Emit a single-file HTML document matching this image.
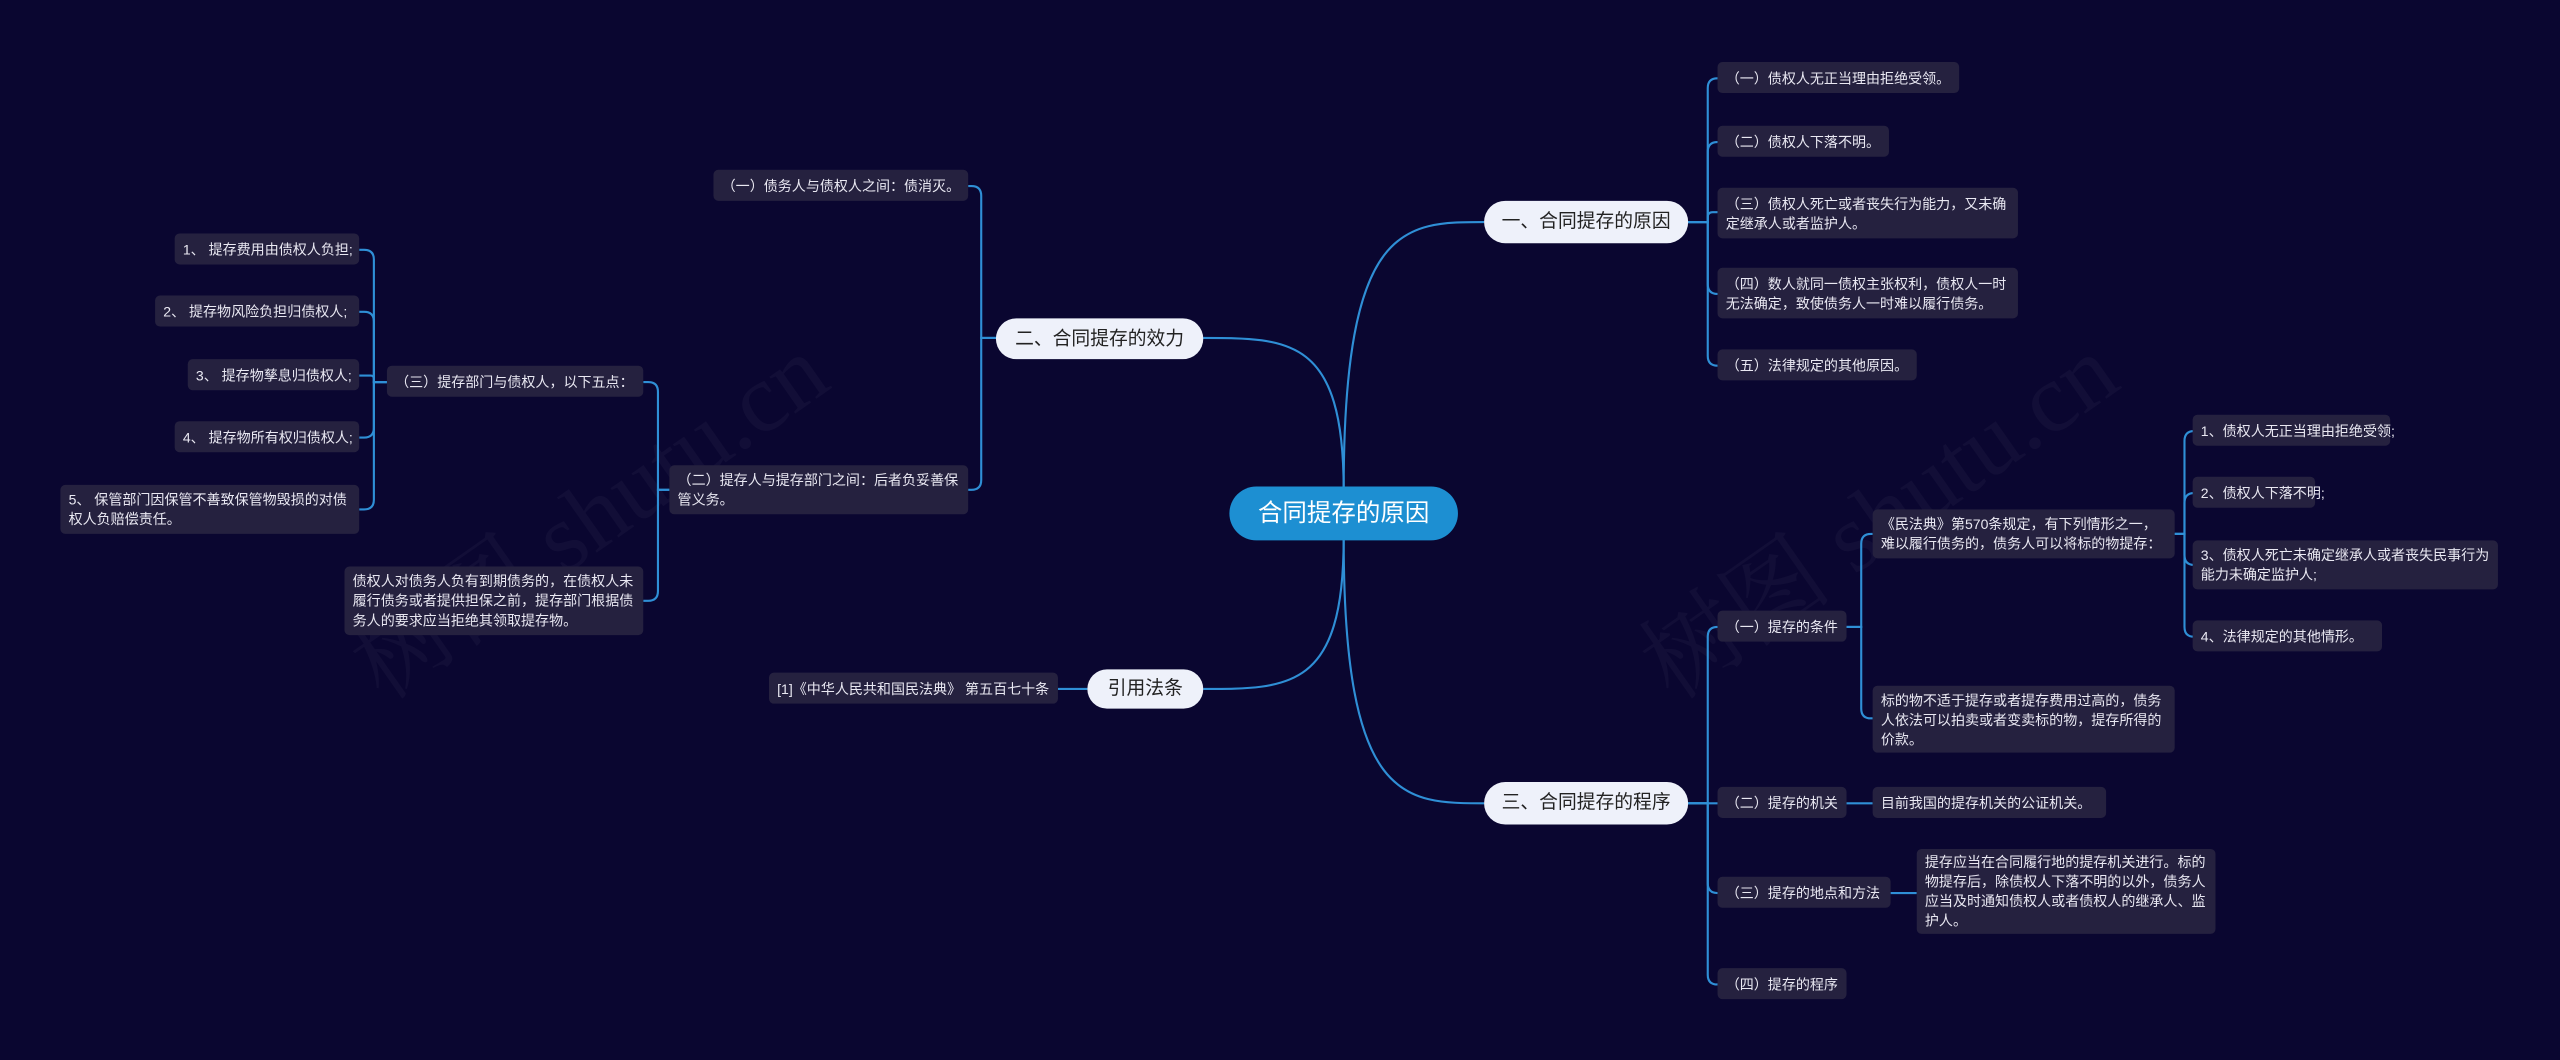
<!DOCTYPE html>
<html><head><meta charset="utf-8">
<style>
html,body{margin:0;padding:0;background:#0a0630;}
body{width:2560px;height:1059px;overflow:hidden;position:relative;}
#w{position:absolute;left:0;top:0;width:1568px;height:649px;transform:scale(1.63265);transform-origin:0 0;}
.n{position:absolute;box-sizing:border-box;background:#25213f;color:#e9e8f2;border-radius:3px;font-family:"Liberation Sans","Noto Sans CJK SC",sans-serif;font-size:8.6px;line-height:12px;padding:0 4px 0 5px;display:flex;align-items:center;}
.l1{background:#eef1fa;color:#222;border-radius:13px;font-size:11.5px;justify-content:center;padding:0;white-space:nowrap;}
.c{background:#1d8fd2;color:#fff;border-radius:17px;font-size:15px;justify-content:center;padding:0;white-space:nowrap;}
svg{position:absolute;left:0;top:0;}
.wm{position:absolute;font-family:"Liberation Serif","Noto Serif CJK SC",serif;font-size:60px;color:rgba(255,255,255,0.035);transform:rotate(-35deg);white-space:nowrap;}
</style></head><body>
<div id="w">
<div class="wm" style="left:190px;top:270px;">树图 shutu.cn</div>
<div class="wm" style="left:980px;top:270px;">树图 shutu.cn</div>
<svg id="s" width="1568" height="649"></svg>

<div class="n c" style="left:753px;top:298px;width:140px;height:33px;">合同提存的原因</div>
<div class="n l1" style="left:909px;top:123px;width:125px;height:26px;">一、合同提存的原因</div>
<div class="n l1" style="left:610px;top:195px;width:127px;height:25px;">二、合同提存的效力</div>
<div class="n l1" style="left:666px;top:410px;width:71px;height:24px;">引用法条</div>
<div class="n l1" style="left:909px;top:479px;width:125px;height:26px;">三、合同提存的程序</div>

<div class="n" style="left:1052px;top:38px;width:148px;height:19px;">（一）债权人无正当理由拒绝受领。</div>
<div class="n" style="left:1052px;top:77px;width:105px;height:19px;">（二）债权人下落不明。</div>
<div class="n" style="left:1052px;top:115px;width:184px;height:31px;">（三）债权人死亡或者丧失行为能力，又未确定继承人或者监护人。</div>
<div class="n" style="left:1052px;top:164px;width:184px;height:31px;">（四）数人就同一债权主张权利，债权人一时无法确定，致使债务人一时难以履行债务。</div>
<div class="n" style="left:1052px;top:214px;width:122px;height:19px;">（五）法律规定的其他原因。</div>

<div class="n" style="left:1052px;top:374px;width:79px;height:19px;">（一）提存的条件</div>
<div class="n" style="left:1052px;top:482px;width:79px;height:19px;">（二）提存的机关</div>
<div class="n" style="left:1052px;top:537px;width:106px;height:19px;">（三）提存的地点和方法</div>
<div class="n" style="left:1052px;top:593px;width:79px;height:19px;">（四）提存的程序</div>

<div class="n" style="left:1147px;top:312px;width:185px;height:30px;">《民法典》第570条规定，有下列情形之一，难以履行债务的，债务人可以将标的物提存：</div>
<div class="n" style="left:1147px;top:420px;width:185px;height:41px;">标的物不适于提存或者提存费用过高的，债务人依法可以拍卖或者变卖标的物，提存所得的价款。</div>
<div class="n" style="left:1343px;top:254px;width:121px;height:19px;">1、债权人无正当理由拒绝受领;</div>
<div class="n" style="left:1343px;top:292px;width:75px;height:19px;">2、债权人下落不明;</div>
<div class="n" style="left:1343px;top:331px;width:187px;height:30px;">3、债权人死亡未确定继承人或者丧失民事行为能力未确定监护人;</div>
<div class="n" style="left:1343px;top:380px;width:116px;height:19px;">4、法律规定的其他情形。</div>
<div class="n" style="left:1147px;top:482px;width:143px;height:19px;">目前我国的提存机关的公证机关。</div>
<div class="n" style="left:1174px;top:520px;width:183px;height:52px;">提存应当在合同履行地的提存机关进行。标的物提存后，除债权人下落不明的以外，债务人应当及时通知债权人或者债权人的继承人、监护人。</div>

<div class="n" style="left:437px;top:104px;width:156px;height:19px;">（一）债务人与债权人之间：债消灭。</div>
<div class="n" style="left:410px;top:285px;width:183px;height:30px;">（二）提存人与提存部门之间：后者负妥善保管义务。</div>
<div class="n" style="left:237px;top:224px;width:157px;height:19px;">（三）提存部门与债权人，以下五点：</div>
<div class="n" style="left:211px;top:347px;width:183px;height:42px;">债权人对债务人负有到期债务的，在债权人未履行债务或者提供担保之前，提存部门根据债务人的要求应当拒绝其领取提存物。</div>
<div class="n" style="left:107px;top:143px;width:113px;height:19px;">1、 提存费用由债权人负担;</div>
<div class="n" style="left:95px;top:181px;width:125px;height:19px;">2、 提存物风险负担归债权人;</div>
<div class="n" style="left:115px;top:220px;width:105px;height:19px;">3、 提存物孳息归债权人;</div>
<div class="n" style="left:107px;top:258px;width:113px;height:19px;">4、 提存物所有权归债权人;</div>
<div class="n" style="left:37px;top:297px;width:183px;height:30px;">5、 保管部门因保管不善致保管物毁损的对债权人负赔偿责任。</div>
<div class="n" style="left:471px;top:412px;width:177px;height:19px;">[1]《中华人民共和国民法典》 第五百七十条</div>
</div>
<script>
Array.prototype.forEach.call(document.querySelectorAll('.n'),function(e){
  if(parseFloat(e.style.height)<=20){e.style.whiteSpace='nowrap';e.style.overflow='visible';}
});
var p=[];
function br(px,py,tx,cx,cy){
  if(Math.abs(cy-py)<1) return 'M'+px+' '+py+'H'+cx;
  var r=Math.min(6,Math.abs(cy-py)/2),d=cy>py?1:-1,h=cx>tx?1:-1;
  return 'M'+px+' '+py+'H'+tx+'V'+(cy-d*r)+'Q'+tx+' '+cy+' '+(tx+h*r)+' '+cy+'H'+cx;
}
function fan(px,py,tx,cx,ys){ys.forEach(function(y){p.push(br(px,py,tx,cx,y));});}
p.push('M823 300C823 136 860 136 909 136');
p.push('M823 300C823 207 790 207 737 207');
p.push('M823 330C823 492 860 492 909 492');
p.push('M823 330C823 422 790 422 737 422');
fan(1034,136,1046,1052,[48,87,130,180,224]);
fan(1034,492,1046,1052,[384,492,547,603]);
fan(1131,384,1140,1147,[327,440]);
fan(1332,327,1338,1343,[264,302,346,390]);
p.push('M1131 492H1147');
p.push('M1158 547H1174');
fan(737,207,601,593,[114,300]);
fan(410,300,403,394,[234,368]);
fan(237,234,229,220,[153,191,230,268,312]);
p.push('M666 422H648');
document.getElementById('s').innerHTML=p.map(function(d){return '<path d="'+d+'" fill="none" stroke="#2f8fd6" stroke-width="1.3"/>';}).join('');
</script>
</body></html>
